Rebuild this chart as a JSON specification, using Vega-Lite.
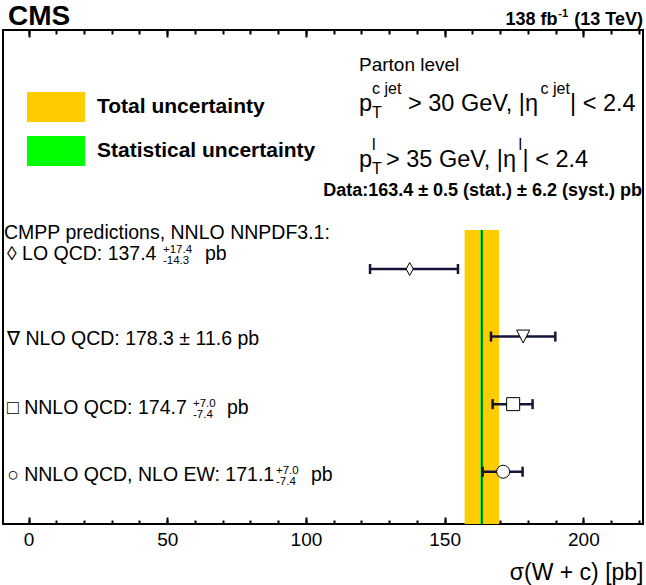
{
  "$schema": "https://vega.github.io/schema/vega-lite/v6.json",
  "width": 640,
  "height": 494,
  "autosize": "none",
  "padding": {"left": 3, "top": 30, "right": 3, "bottom": 61},
  "background": "white",
  "config": {
    "view": {"stroke": "black", "strokeWidth": 2},
    "font": "Liberation Sans",
    "axis": {"ticks": true, "tickColor": "black", "tickOpacity": 1, "tickWidth": 2, "domain": false, "grid": false},
    "text": {"font": "Liberation Sans, DejaVu Sans", "color": "black", "align": "left", "baseline": "alphabetic", "fontSize": 19.5}
  },
  "datasets": {
    "pred": [
      {"model": "LO QCD", "value": 137.4, "lo": 123.1, "hi": 154.8, "row": 4},
      {"model": "NLO QCD", "value": 178.3, "lo": 166.7, "hi": 189.9, "row": 3},
      {"model": "NNLO QCD", "value": 174.7, "lo": 167.3, "hi": 181.7, "row": 2},
      {"model": "NNLO QCD, NLO EW", "value": 171.1, "lo": 163.7, "hi": 178.1, "row": 1}
    ]
  },
  "resolve": {"axis": {"x": "independent"}},
  "layer": [
    {
      "data": {"values": [
        {"band": "Total uncertainty", "lo": 157.2, "hi": 169.6},
        {"band": "Statistical uncertainty", "lo": 162.9, "hi": 163.9}
      ]},
      "mark": {"type": "rect"},
      "encoding": {
        "x": {"field": "lo", "type": "quantitative",
          "scale": {"domain": [-9.2, 221.5], "nice": false, "zero": false},
          "axis": {"orient": "bottom", "values": [0, 50, 100, 150, 200], "tickSize": -7,
            "labelFont": "Liberation Sans", "labelFontSize": 19, "labelColor": "black", "labelPadding": 13,
            "labelOverlap": false, "labelFlush": false,
            "title": "σ(W + c) [pb]", "titleFont": "Liberation Sans", "titleFontSize": 23, "titleFontWeight": "normal",
            "titleColor": "black", "titleX": 640, "titleY": 55, "titleAlign": "right", "titleBaseline": "alphabetic"}},
        "x2": {"field": "hi"},
        "y": {"datum": 4.577, "type": "quantitative", "scale": {"domain": [0.226, 7.537], "nice": false, "zero": false}, "axis": null},
        "y2": {"datum": 0.226},
        "color": {"field": "band", "type": "nominal",
          "scale": {"domain": ["Total uncertainty", "Statistical uncertainty"], "range": ["#ffcc00", "#00ff00"]},
          "legend": {"orient": "none", "legendX": 24, "legendY": 48, "title": null,
            "symbolType": "M-1,-0.517H1V0.517H-1Z", "symbolSize": 3364, "symbolStrokeWidth": 0, "symbolOpacity": 1,
            "labelFont": "Liberation Sans", "labelFontSize": 21, "labelFontWeight": "bold", "labelColor": "black",
            "labelOffset": 12, "labelLimit": 400, "rowPadding": -20, "padding": 0}}
      }
    },
    {
      "data": {"values": [{"value": 163.4}]},
      "mark": {"type": "rule", "color": "#101040", "strokeWidth": 1.2},
      "encoding": {
        "x": {"field": "value", "type": "quantitative",
          "axis": {"orient": "top", "values": [0, 50, 100, 150, 200], "tickSize": -7, "labels": false, "title": null}},
        "y": {"datum": 4.577, "type": "quantitative", "axis": null},
        "y2": {"datum": 0.226}
      }
    },
    {
      "data": {"name": "pred"},
      "mark": {"type": "rule", "color": "#14143a", "strokeWidth": 2.5},
      "encoding": {
        "x": {"field": "lo", "type": "quantitative",
          "axis": {"orient": "bottom", "values": [0,10,20,30,40,50,60,70,80,90,100,110,120,130,140,150,160,170,180,190,200,210,220], "tickSize": -4, "labels": false, "title": null}},
        "x2": {"field": "hi"},
        "y": {"field": "row", "type": "quantitative", "axis": null}
      }
    },
    {
      "data": {"name": "pred"},
      "mark": {"type": "tick", "orient": "vertical", "size": 10, "thickness": 2.5, "color": "#14143a", "opacity": 1},
      "encoding": {
        "x": {"field": "lo", "type": "quantitative",
          "axis": {"orient": "top", "values": [0,10,20,30,40,50,60,70,80,90,100,110,120,130,140,150,160,170,180,190,200,210,220], "tickSize": -4, "labels": false, "title": null}},
        "y": {"field": "row", "type": "quantitative", "axis": null}
      }
    },
    {
      "data": {"name": "pred"},
      "mark": {"type": "tick", "orient": "vertical", "size": 10, "thickness": 2.5, "color": "#14143a", "opacity": 1},
      "encoding": {
        "x": {"field": "hi", "type": "quantitative", "axis": null},
        "y": {"field": "row", "type": "quantitative", "axis": null}
      }
    },
    {
      "data": {"name": "pred"},
      "mark": {"type": "point", "filled": true, "fill": "white", "stroke": "black", "strokeWidth": 1, "size": 169, "opacity": 1},
      "encoding": {
        "x": {"field": "value", "type": "quantitative", "axis": null},
        "y": {"field": "row", "type": "quantitative", "axis": null},
        "shape": {"field": "model", "type": "nominal", "legend": null,
          "scale": {"domain": ["LO QCD", "NLO QCD", "NNLO QCD", "NNLO QCD, NLO EW"],
                    "range": ["M0,-1L0.55,0L0,1L-0.55,0Z", "M-1,-1L1,-1L0,1Z", "square", "circle"]}}
      }
    },
    {
      "data": {"values": [{"t": "CMS"}]},
      "mark": {"type": "text", "fontSize": 28, "fontWeight": "bold"},
      "encoding": {"x": {"datum": -7.398, "type": "quantitative", "axis": null}, "y": {"datum": 7.604, "type": "quantitative", "axis": null}, "text": {"field": "t"}}
    },
    {
      "data": {"values": [{"t": "(13 TeV)"}]},
      "mark": {"type": "text", "fontSize": 18, "fontWeight": "bold", "align": "right"},
      "encoding": {"x": {"datum": 221.5, "type": "quantitative", "axis": null}, "y": {"datum": 7.604, "type": "quantitative", "axis": null}, "text": {"field": "t"}}
    },
    {
      "data": {"values": [{"t": "-1"}]},
      "mark": {"type": "text", "fontSize": 11, "fontWeight": "bold", "align": "right", "dx": -75, "dy": -8},
      "encoding": {"x": {"datum": 221.5, "type": "quantitative", "axis": null}, "y": {"datum": 7.604, "type": "quantitative", "axis": null}, "text": {"field": "t"}}
    },
    {
      "data": {"values": [{"t": "138 fb"}]},
      "mark": {"type": "text", "fontSize": 18, "fontWeight": "bold", "align": "right", "dx": -85.5},
      "encoding": {"x": {"datum": 221.5, "type": "quantitative", "axis": null}, "y": {"datum": 7.604, "type": "quantitative", "axis": null}, "text": {"field": "t"}}
    },
    {
      "data": {"values": [{"t": "Parton level"}]},
      "mark": {"type": "text", "fontSize": 19},
      "encoding": {"x": {"datum": 119.127, "type": "quantitative", "axis": null}, "y": {"datum": 6.930, "type": "quantitative", "axis": null}, "text": {"field": "t"}}
    },
    {
      "data": {"values": [{"t": "p"}]},
      "mark": {"type": "text", "fontSize": 23.5},
      "encoding": {"x": {"datum": 119.127, "type": "quantitative", "axis": null}, "y": {"datum": 6.338, "type": "quantitative", "axis": null}, "text": {"field": "t"}}
    },
    {
      "data": {"values": [{"t": "T"}]},
      "mark": {"type": "text", "fontSize": 16, "dx": 13, "dy": 7},
      "encoding": {"x": {"datum": 119.127, "type": "quantitative", "axis": null}, "y": {"datum": 6.338, "type": "quantitative", "axis": null}, "text": {"field": "t"}}
    },
    {
      "data": {"values": [{"t": "c jet"}]},
      "mark": {"type": "text", "fontSize": 16, "dx": 13, "dy": -17},
      "encoding": {"x": {"datum": 119.127, "type": "quantitative", "axis": null}, "y": {"datum": 6.338, "type": "quantitative", "axis": null}, "text": {"field": "t"}}
    },
    {
      "data": {"values": [{"t": "> 30 GeV, |η"}]},
      "mark": {"type": "text", "fontSize": 23.5, "dx": 49},
      "encoding": {"x": {"datum": 119.127, "type": "quantitative", "axis": null}, "y": {"datum": 6.338, "type": "quantitative", "axis": null}, "text": {"field": "t"}}
    },
    {
      "data": {"values": [{"t": "c jet"}]},
      "mark": {"type": "text", "fontSize": 16, "dx": 181.5, "dy": -17},
      "encoding": {"x": {"datum": 119.127, "type": "quantitative", "axis": null}, "y": {"datum": 6.338, "type": "quantitative", "axis": null}, "text": {"field": "t"}}
    },
    {
      "data": {"values": [{"t": "| < 2.4"}]},
      "mark": {"type": "text", "fontSize": 23.5, "dx": 211},
      "encoding": {"x": {"datum": 119.127, "type": "quantitative", "axis": null}, "y": {"datum": 6.338, "type": "quantitative", "axis": null}, "text": {"field": "t"}}
    },
    {
      "data": {"values": [{"t": "p"}]},
      "mark": {"type": "text", "fontSize": 23.5},
      "encoding": {"x": {"datum": 119.127, "type": "quantitative", "axis": null}, "y": {"datum": 5.509, "type": "quantitative", "axis": null}, "text": {"field": "t"}}
    },
    {
      "data": {"values": [{"t": "T"}]},
      "mark": {"type": "text", "fontSize": 16, "dx": 13, "dy": 7},
      "encoding": {"x": {"datum": 119.127, "type": "quantitative", "axis": null}, "y": {"datum": 5.509, "type": "quantitative", "axis": null}, "text": {"field": "t"}}
    },
    {
      "data": {"values": [{"t": "l"}]},
      "mark": {"type": "text", "fontSize": 16, "dx": 13, "dy": -17},
      "encoding": {"x": {"datum": 119.127, "type": "quantitative", "axis": null}, "y": {"datum": 5.509, "type": "quantitative", "axis": null}, "text": {"field": "t"}}
    },
    {
      "data": {"values": [{"t": "> 35 GeV, |η"}]},
      "mark": {"type": "text", "fontSize": 23.5, "dx": 27},
      "encoding": {"x": {"datum": 119.127, "type": "quantitative", "axis": null}, "y": {"datum": 5.509, "type": "quantitative", "axis": null}, "text": {"field": "t"}}
    },
    {
      "data": {"values": [{"t": "l"}]},
      "mark": {"type": "text", "fontSize": 16, "dx": 159.5, "dy": -17},
      "encoding": {"x": {"datum": 119.127, "type": "quantitative", "axis": null}, "y": {"datum": 5.509, "type": "quantitative", "axis": null}, "text": {"field": "t"}}
    },
    {
      "data": {"values": [{"t": "| < 2.4"}]},
      "mark": {"type": "text", "fontSize": 23.5, "dx": 163.5},
      "encoding": {"x": {"datum": 119.127, "type": "quantitative", "axis": null}, "y": {"datum": 5.509, "type": "quantitative", "axis": null}, "text": {"field": "t"}}
    },
    {
      "data": {"values": [{"t": "Data:163.4 ± 0.5 (stat.) ± 6.2 (syst.) pb"}]},
      "mark": {"type": "text", "fontSize": 18, "fontWeight": "bold", "align": "right"},
      "encoding": {"x": {"datum": 221.14, "type": "quantitative", "axis": null}, "y": {"datum": 5.080, "type": "quantitative", "axis": null}, "text": {"field": "t"}}
    },
    {
      "data": {"values": [{"t": "CMPP predictions, NNLO NNPDF3.1:"}]},
      "mark": {"type": "text", "fontSize": 19.5},
      "encoding": {"x": {"datum": -8.84, "type": "quantitative", "axis": null}, "y": {"datum": 4.451, "type": "quantitative", "axis": null}, "text": {"field": "t"}}
    },
    {
      "data": {"values": [{"t": "◊ LO QCD: 137.4"}]},
      "mark": {"type": "text"},
      "encoding": {"x": {"datum": -7.758, "type": "quantitative", "axis": null}, "y": {"datum": 4.140, "type": "quantitative", "axis": null}, "text": {"field": "t"}}
    },
    {
      "data": {"values": [{"t": "+17.4"}]},
      "mark": {"type": "text", "fontSize": 11.5, "dx": 156, "dy": -7},
      "encoding": {"x": {"datum": -7.758, "type": "quantitative", "axis": null}, "y": {"datum": 4.140, "type": "quantitative", "axis": null}, "text": {"field": "t"}}
    },
    {
      "data": {"values": [{"t": "-14.3"}]},
      "mark": {"type": "text", "fontSize": 11.5, "dx": 156, "dy": 4},
      "encoding": {"x": {"datum": -7.758, "type": "quantitative", "axis": null}, "y": {"datum": 4.140, "type": "quantitative", "axis": null}, "text": {"field": "t"}}
    },
    {
      "data": {"values": [{"t": "pb"}]},
      "mark": {"type": "text", "dx": 198},
      "encoding": {"x": {"datum": -7.758, "type": "quantitative", "axis": null}, "y": {"datum": 4.140, "type": "quantitative", "axis": null}, "text": {"field": "t"}}
    },
    {
      "data": {"values": [{"t": "∇ NLO QCD: 178.3 ± 11.6  pb"}]},
      "mark": {"type": "text"},
      "encoding": {"x": {"datum": -7.758, "type": "quantitative", "axis": null}, "y": {"datum": 2.875, "type": "quantitative", "axis": null}, "text": {"field": "t"}}
    },
    {
      "data": {"values": [{"t": "□ NNLO QCD: 174.7"}]},
      "mark": {"type": "text"},
      "encoding": {"x": {"datum": -7.758, "type": "quantitative", "axis": null}, "y": {"datum": 1.861, "type": "quantitative", "axis": null}, "text": {"field": "t"}}
    },
    {
      "data": {"values": [{"t": "+7.0"}]},
      "mark": {"type": "text", "fontSize": 11.5, "dx": 186, "dy": -7},
      "encoding": {"x": {"datum": -7.758, "type": "quantitative", "axis": null}, "y": {"datum": 1.861, "type": "quantitative", "axis": null}, "text": {"field": "t"}}
    },
    {
      "data": {"values": [{"t": "-7.4"}]},
      "mark": {"type": "text", "fontSize": 11.5, "dx": 186, "dy": 4},
      "encoding": {"x": {"datum": -7.758, "type": "quantitative", "axis": null}, "y": {"datum": 1.861, "type": "quantitative", "axis": null}, "text": {"field": "t"}}
    },
    {
      "data": {"values": [{"t": "pb"}]},
      "mark": {"type": "text", "dx": 220},
      "encoding": {"x": {"datum": -7.758, "type": "quantitative", "axis": null}, "y": {"datum": 1.861, "type": "quantitative", "axis": null}, "text": {"field": "t"}}
    },
    {
      "data": {"values": [{"t": "○ NNLO QCD, NLO EW: 171.1"}]},
      "mark": {"type": "text"},
      "encoding": {"x": {"datum": -7.758, "type": "quantitative", "axis": null}, "y": {"datum": 0.855, "type": "quantitative", "axis": null}, "text": {"field": "t"}}
    },
    {
      "data": {"values": [{"t": "+7.0"}]},
      "mark": {"type": "text", "fontSize": 11.5, "dx": 269, "dy": -7},
      "encoding": {"x": {"datum": -7.758, "type": "quantitative", "axis": null}, "y": {"datum": 0.855, "type": "quantitative", "axis": null}, "text": {"field": "t"}}
    },
    {
      "data": {"values": [{"t": "-7.4"}]},
      "mark": {"type": "text", "fontSize": 11.5, "dx": 269, "dy": 4},
      "encoding": {"x": {"datum": -7.758, "type": "quantitative", "axis": null}, "y": {"datum": 0.855, "type": "quantitative", "axis": null}, "text": {"field": "t"}}
    },
    {
      "data": {"values": [{"t": "pb"}]},
      "mark": {"type": "text", "dx": 304},
      "encoding": {"x": {"datum": -7.758, "type": "quantitative", "axis": null}, "y": {"datum": 0.855, "type": "quantitative", "axis": null}, "text": {"field": "t"}}
    }
  ]
}
